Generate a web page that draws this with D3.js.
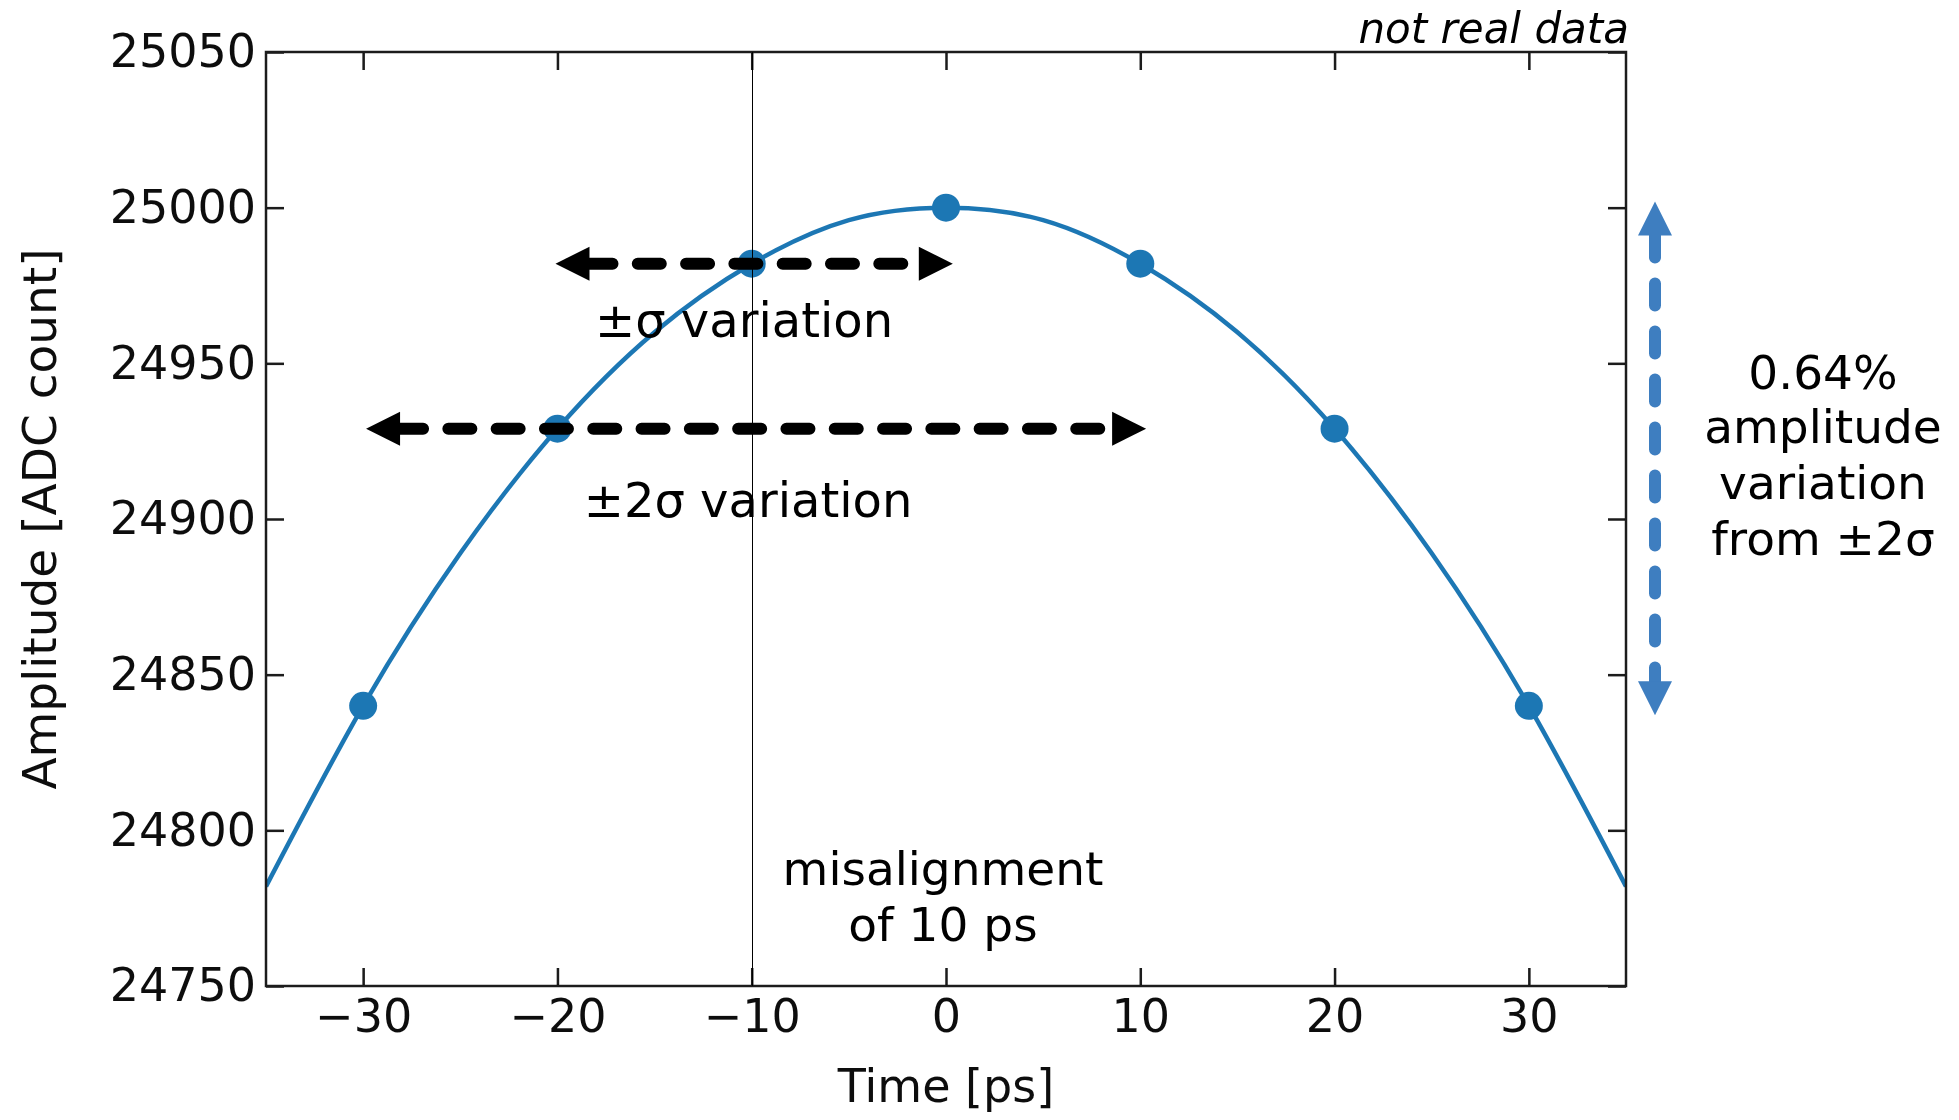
<!DOCTYPE html>
<html>
<head>
<meta charset="utf-8">
<script src="https://cdn.jsdelivr.net/npm/d3@7"></script>
<style>
  html, body { margin: 0; padding: 0; background: #ffffff; }
  svg { display: block; font-family: "DejaVu Sans", sans-serif; }
</style>
</head>
<body>
<svg id="chart" width="1959" height="1120"></svg>
<script>
// Sampled pulse amplitude at each time offset
const sampleTimes = [-30, -20, -10, 0, 10, 20, 30];
const sampleAmplitudes = [24840, 24929, 24982, 25000, 24982, 24929, 24840];

// Pulse shape around the peak (ps, ADC count)
const shapeTimes = [-35, -30, -25, -20, -15, -10, -5, 0, 5, 10, 15, 20, 25, 30, 35];
const shapeAmplitudes = [24782, 24840, 24889, 24929, 24960, 24982, 24996, 25000, 24996, 24982, 24960, 24929, 24889, 24840, 24782];

// Axis ticks
const xTicks = [-30, -20, -10, 0, 10, 20, 30];
const yTicks = [24750, 24800, 24850, 24900, 24950, 25000, 25050];

// Annotation values
const misalignmentTime = -10;
const sigmaSpan = [-20.1, 0.35];        // ±σ arrow extent (ps)
const sigmaLevel = 24982;
const twoSigmaSpan = [-29.85, 10.3];    // ±2σ arrow extent (ps)
const twoSigmaLevel = 24929;
const variationSpan = [25002, 24837];   // amplitude range covered by ±2σ

(function draw() {
  const svg = d3.select("#chart");
  const pLeft = 266, pRight = 1626, pTop = 52, pBottom = 986;

  const x = d3.scaleLinear().domain([-35, 35]).range([pLeft, pRight]);
  const y = d3.scaleLinear().domain([24750, 25050]).range([pBottom, pTop]);

  const defs = svg.append("defs");
  defs.append("filter").attr("id", "soft")
    .append("feGaussianBlur").attr("stdDeviation", 0.6);
  defs.append("clipPath").attr("id", "plotClip")
    .append("rect").attr("x", pLeft).attr("y", pTop)
    .attr("width", pRight - pLeft).attr("height", pBottom - pTop);

  const plot = svg.append("g").attr("filter", "url(#soft)");

  // Pulse shape curve
  plot.append("path")
    .datum(shapeTimes.map((t, i) => [t, shapeAmplitudes[i]]))
    .attr("clip-path", "url(#plotClip)")
    .attr("fill", "none")
    .attr("stroke", "#1f77b4")
    .attr("stroke-width", 4.5)
    .attr("d", d3.line().x(d => x(d[0])).y(d => y(d[1])).curve(d3.curveNatural));

  // Sample markers
  plot.selectAll("circle.sample")
    .data(sampleTimes.map((t, i) => [t, sampleAmplitudes[i]]))
    .join("circle")
    .attr("class", "sample")
    .attr("cx", d => x(d[0]))
    .attr("cy", d => y(d[1]))
    .attr("r", 14)
    .attr("fill", "#1f77b4");

  // Axes with inward ticks on all four sides
  const axisColor = "#1a1a1a";
  function styleAxis(g) {
    g.select(".domain").remove();
    g.selectAll(".tick line").attr("stroke", axisColor).attr("stroke-width", 2.5);
    g.selectAll(".tick text").attr("fill", "#111").attr("font-size", 46)
      .attr("font-family", "DejaVu Sans");
  }

  plot.append("g")
    .attr("transform", `translate(0,${pBottom})`)
    .call(d3.axisBottom(x).tickValues(xTicks).tickSize(-18).tickPadding(13))
    .call(styleAxis);

  plot.append("g")
    .attr("transform", `translate(0,${pTop})`)
    .call(d3.axisTop(x).tickValues(xTicks).tickSize(-18).tickFormat(""))
    .call(styleAxis);

  plot.append("g")
    .attr("transform", `translate(${pLeft},0)`)
    .call(d3.axisLeft(y).tickValues(yTicks).tickSize(-18).tickPadding(10).tickFormat(d3.format("d")))
    .call(styleAxis);

  plot.append("g")
    .attr("transform", `translate(${pRight},0)`)
    .call(d3.axisRight(y).tickValues(yTicks).tickSize(-18).tickFormat(""))
    .call(styleAxis);

  plot.append("rect")
    .attr("x", pLeft).attr("y", pTop)
    .attr("width", pRight - pLeft).attr("height", pBottom - pTop)
    .attr("fill", "none")
    .attr("stroke", axisColor)
    .attr("stroke-width", 2.5);

  // Axis titles
  plot.append("text")
    .attr("x", x(0)).attr("y", 1102)
    .attr("text-anchor", "middle")
    .attr("font-size", 46)
    .attr("fill", "#111")
    .text("Time [ps]");

  plot.append("text")
    .attr("transform", `translate(56,${(pTop + pBottom) / 2}) rotate(-90)`)
    .attr("text-anchor", "middle")
    .attr("font-size", 47)
    .attr("fill", "#111")
    .text("Amplitude [ADC count]");

  // Misalignment marker line
  svg.append("line")
    .attr("x1", Math.round(x(misalignmentTime)) + 0.5).attr("x2", Math.round(x(misalignmentTime)) + 0.5)
    .attr("y1", pTop).attr("y2", pBottom)
    .attr("stroke", "#000")
    .attr("stroke-width", 1);

  // Dashed double-headed arrows
  const headLen = 34, headHalf = 17;
  function hArrow(x1, x2, yy, color) {
    const g = svg.append("g");
    g.append("line")
      .attr("x1", x1 + headLen).attr("x2", x2 - headLen)
      .attr("y1", yy).attr("y2", yy)
      .attr("stroke", color).attr("stroke-width", 12)
      .attr("stroke-linecap", "round")
      .attr("stroke-dasharray", "23,25.3");
    g.append("path")
      .attr("d", `M${x1},${yy} L${x1 + headLen},${yy - headHalf} L${x1 + headLen},${yy + headHalf} Z`)
      .attr("fill", color);
    g.append("path")
      .attr("d", `M${x2},${yy} L${x2 - headLen},${yy - headHalf} L${x2 - headLen},${yy + headHalf} Z`)
      .attr("fill", color);
  }
  function vArrow(xx, y1, y2, color) {
    const g = svg.append("g");
    g.append("line")
      .attr("x1", xx).attr("x2", xx)
      .attr("y1", y1 + headLen).attr("y2", y2 - headLen)
      .attr("stroke", color).attr("stroke-width", 12)
      .attr("stroke-linecap", "round")
      .attr("stroke-dasharray", "22,26");
    g.append("path")
      .attr("d", `M${xx},${y1} L${xx - headHalf},${y1 + headLen} L${xx + headHalf},${y1 + headLen} Z`)
      .attr("fill", color);
    g.append("path")
      .attr("d", `M${xx},${y2} L${xx - headHalf},${y2 - headLen} L${xx + headHalf},${y2 - headLen} Z`)
      .attr("fill", color);
  }

  hArrow(x(sigmaSpan[0]), x(sigmaSpan[1]), y(sigmaLevel), "#000");
  hArrow(x(twoSigmaSpan[0]), x(twoSigmaSpan[1]), y(twoSigmaLevel), "#000");
  vArrow(pRight + 29, y(variationSpan[0]), y(variationSpan[1]), "#3e7ec0");

  // Annotation text
  function label(lines, cx, baselines, size) {
    const t = svg.append("text")
      .attr("text-anchor", "middle")
      .attr("font-size", size)
      .attr("fill", "#000");
    lines.forEach((s, i) => {
      t.append("tspan").attr("x", cx).attr("y", baselines[i]).text(s);
    });
    return t;
  }

  label(["±σ variation"], 744, [337], 48);
  label(["±2σ variation"], 748, [517], 48);
  label(["misalignment", "of 10 ps"], 943, [885, 941], 47);
  label(["0.64%", "amplitude", "variation", "from ±2σ"], 1823, [389, 443, 499, 555], 47);

  svg.append("text")
    .attr("x", 1629).attr("y", 43)
    .attr("text-anchor", "end")
    .attr("font-size", 42)
    .attr("font-style", "italic")
    .attr("fill", "#000")
    .text("not real data");
})();
</script>
</body>
</html>
